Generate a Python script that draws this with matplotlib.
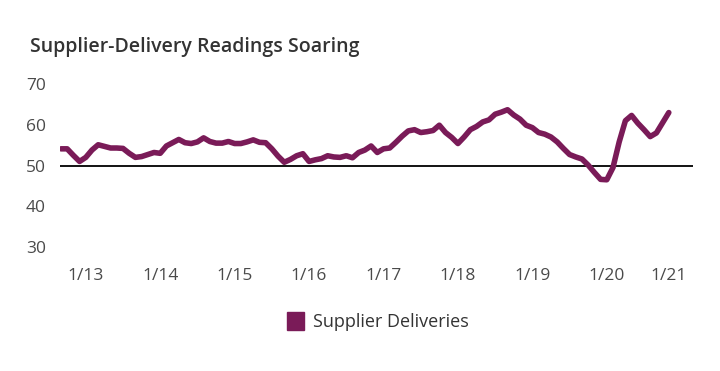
import matplotlib.pyplot as plt
from matplotlib.patches import Patch

# Supplier deliveries index, monthly Sep 2012 - Nov 2020
values = [54.1, 54.1, 52.5, 51.0, 52.0, 53.8, 55.1, 54.7, 54.3, 54.3, 54.2, 53.0,
          52.0, 52.2, 52.7, 53.2, 53.0, 54.8, 55.6, 56.4, 55.6, 55.4, 55.8, 56.8,
          55.9, 55.5, 55.5, 55.9, 55.4, 55.4, 55.8, 56.3, 55.7, 55.6, 54.1, 52.3,
          50.8, 51.5, 52.4, 52.9, 51.0, 51.4, 51.7, 52.4, 52.1, 52.0, 52.4, 51.9,
          53.2, 53.8, 54.8, 53.2, 54.1, 54.3, 55.7, 57.2, 58.5, 58.8, 58.1, 58.3,
          58.6, 59.9, 58.1, 56.9, 55.4, 57.0, 58.8, 59.6, 60.7, 61.2, 62.6, 63.1,
          63.7, 62.4, 61.4, 59.9, 59.3, 58.1, 57.7, 57.0, 55.8, 54.2, 52.7, 52.1,
          51.6, 50.1, 48.3, 46.6, 46.5, 49.5, 55.8, 61.0, 62.3, 60.4, 58.8, 57.1,
          58.0, 60.5, 63.0]
tick_labels = ['1/13', '1/14', '1/15', '1/16', '1/17', '1/18', '1/19', '1/20', '1/21']
tick_pos = [4, 16, 28, 40, 52, 64, 76, 88, 98]
y_ticks = [30, 40, 50, 60, 70]

line_color = '#7a1b58'
text_color = '#4a4a4a'
plt.rcParams['font.family'] = ['Open Sans', 'DejaVu Sans']

fig = plt.figure(figsize=(7.2, 3.71), dpi=100)
ax = fig.add_axes([0.0833, 0.3013, 0.8792, 0.4941])

ax.plot(range(len(values)), values, color=line_color, linewidth=4,
        solid_capstyle='round', solid_joinstyle='round', zorder=3)
ax.axhline(50, color='black', linewidth=1.3, zorder=2)

ax.set_xlim(-0.16, 101.9)
ax.set_ylim(27, 72)
ax.set_yticks(y_ticks)
ax.set_xticks(tick_pos)
ax.set_xticklabels(tick_labels)
ax.tick_params(axis='both', length=0, labelsize=12.5, labelcolor=text_color)
ax.tick_params(axis='y', pad=10)
ax.tick_params(axis='x', pad=6)
for s in ax.spines.values():
    s.set_visible(False)

fig.text(0.042, 0.873, 'Supplier-Delivery Readings Soaring', fontsize=14,
         fontweight='semibold', color='#333333', va='center', ha='left')

handle = Patch(facecolor=line_color, edgecolor=line_color)
fig.legend([handle], ['Supplier Deliveries'], loc='center', bbox_to_anchor=(0.525, 0.133),
           frameon=False, fontsize=13, handlelength=0.9, handleheight=1.1,
           handletextpad=0.5, labelcolor='#333333')

fig.savefig('out.png', dpi=100, facecolor='white')
